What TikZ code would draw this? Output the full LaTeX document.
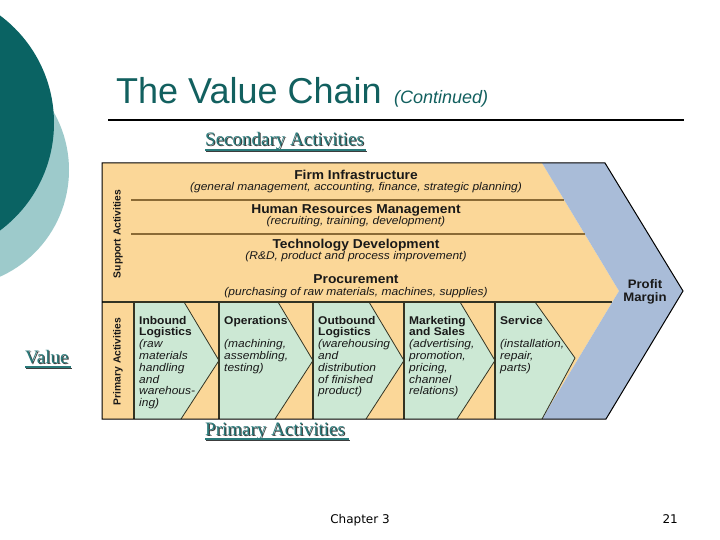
\documentclass[tikz,border=0pt]{standalone}
\usepackage{fontspec}
\setmainfont{Liberation Sans}
\newfontfamily\dfont[FakeStretch=1.07]{Liberation Sans}
\newfontfamily\vfont{Liberation Sans}
\newfontfamily\srffont{Liberation Serif}
\newfontfamily\footfont{DejaVu Sans}
\definecolor{orangec}{HTML}{FBD798}
\definecolor{greenc}{HTML}{CCE8D4}
\definecolor{bluec}{HTML}{A9BCD8}
\definecolor{dteal}{HTML}{0A6363}
\definecolor{lteal}{HTML}{9DCACB}
\definecolor{titlec}{HTML}{12605F}
\definecolor{tealtext}{HTML}{2A7A7A}
\definecolor{shadowc}{HTML}{3C3C3C}
\definecolor{sepc}{HTML}{8A6A35}
\definecolor{linec}{HTML}{333322}
\begin{document}
\begin{tikzpicture}[x=1pt,y=-1pt,
  coltext/.style={anchor=north west, align=left, inner sep=0pt, text=black!90,
    font=\dfont\fontsize{11.2}{11.8}\selectfont},
  rowtitle/.style={anchor=base, inner sep=0pt, text=black!90,
    font=\dfont\bfseries\fontsize{12.9}{14}\selectfont},
  rowsub/.style={anchor=base, inner sep=0pt, text=black!90,
    font=\dfont\itshape\fontsize{11.2}{12}\selectfont},
  vlabel/.style={rotate=90, inner sep=0pt, text=black!90,
    font=\vfont\bfseries\fontsize{10.3}{12}\selectfont},
  serifmain/.style={anchor=base west, inner sep=0pt, text=tealtext,
    font=\srffont\fontsize{19}{22}\selectfont},
  serifshadow/.style={anchor=base west, inner sep=0pt, text=shadowc,
    font=\srffont\fontsize{19}{22}\selectfont},
  chev/.style={fill=greenc},
  chevedge/.style={draw=linec, line width=0.8pt},
  colline/.style={draw=linec, line width=1.1pt},
  sepline/.style={draw=sepc, line width=1.4pt}
]
\useasboundingbox (0,0) rectangle (720,540);
\fill[white] (0,0) rectangle (720,540);
% left decoration
\fill[lteal] (-48,170) circle[radius=117pt];
\fill[dteal] (-80,123) circle[radius=134pt];
% title
\node (title) [anchor=base west, inner sep=0pt, text=titlec,
  font=\fontsize{36}{40}\selectfont] at (116,104) {The Value Chain};
\node (cont) [anchor=base west, inner sep=0pt, text=titlec,
  font=\itshape\fontsize{18}{20}\selectfont] at ([xshift=12pt]title.base east) {(Continued)};
\draw[line width=2pt, black] (108,120) -- (684,120);
% serif labels with shadow
\node (secs) [serifshadow] at (206,147) {Secondary Activities};
\node (sec) [serifmain] at (205,146) {Secondary Activities};
\draw[shadowc, line width=1.5pt] (206,151.5) -- (367,151.5);
\draw[tealtext, line width=1.5pt] (205,150) -- (366,150);
\node (vals) [serifshadow] at (26,364) {Value};
\node (val) [serifmain] at (25,363) {Value};
\draw[shadowc, line width=1.5pt] (26,368.5) -- (72,368.5);
\draw[tealtext, line width=1.5pt] (25,367) -- (71,367);
\node (prims) [serifshadow] at (206,436) {Primary Activities};
\node (prim) [serifmain] at (205,435) {Primary Activities};
\draw[shadowc, line width=1.5pt] (206,440.5) -- (350,440.5);
\draw[tealtext, line width=1.5pt] (205,439) -- (349,439);
% diagram backgrounds
\fill[orangec] (102,163) -- (542,163) -- (619,291) -- (542,419) -- (102,419) -- cycle;
\fill[bluec] (542,163) -- (605,163) -- (683,291) -- (606,419) -- (542,419) -- (619,291) -- cycle;
% green chevrons
\fill[chev] (134,302) -- (184,302) -- (219,360.5) -- (181,419) -- (134,419) -- cycle;
\fill[chev] (219,302) -- (278,302) -- (313,360.5) -- (275,419) -- (219,419) -- cycle;
\fill[chev] (313,302) -- (369,302) -- (404,360.5) -- (366,419) -- (313,419) -- cycle;
\fill[chev] (404,302) -- (460,302) -- (495,360.5) -- (457,419) -- (404,419) -- cycle;
\fill[chev] (495,302) -- (535,302) -- (575,358) -- (542,419) -- (495,419) -- cycle;
\draw[chevedge] (184,302) -- (219,360.5) -- (181,419);
\draw[chevedge] (278,302) -- (313,360.5) -- (275,419);
\draw[chevedge] (369,302) -- (404,360.5) -- (366,419);
\draw[chevedge] (460,302) -- (495,360.5) -- (457,419);
\draw[chevedge] (535,302) -- (575,358) -- (542,419);
% lines
\draw[sepline] (131,200) -- (564,200);
\draw[sepline] (131,234) -- (585,234);
\draw[colline] (102,302) -- (612.4,302);
\foreach \cx in {134,219,313,404,495} \draw[colline] (\cx,302) -- (\cx,419);
\draw[black, line width=1pt] (102,163) -- (605,163) -- (683,291) -- (606,419) -- (102,419) -- cycle;
% support labels
\node (sup) [vlabel] at (118,234) {Support Activities};
\node (pri) [vlabel] at (118,361.5) {Primary Activities};
% support rows
\node (r1) [rowtitle] at (356,179.5) {Firm Infrastructure};
\node (r1s) [rowsub] at (356,190.5) {(general management, accounting, finance, strategic planning)};
\node (r2) [rowtitle] at (356,213.5) {Human Resources Management};
\node (r2s) [rowsub] at (356,224.5) {(recruiting, training, development)};
\node (r3) [rowtitle] at (356,248.5) {Technology Development};
\node (r3s) [rowsub] at (356,259.5) {(R\&D, product and process improvement)};
\node (r4) [rowtitle] at (356,283.5) {Procurement};
\node (r4s) [rowsub] at (356,295) {(purchasing of raw materials, machines, supplies)};
% profit margin
\node (pm) [align=center, inner sep=0pt, text=black!90,
  font=\dfont\bfseries\fontsize{12.3}{12.5}\selectfont] at (645,292) {Profit\\Margin};
% primary columns
\node (c1) [coltext] at (139,315.8) {\textbf{Inbound}\\\textbf{Logistics}\\\textit{(raw}\\\textit{materials}\\\textit{handling}\\\textit{and}\\\textit{warehous-}\\\textit{ing)}};
\node (c2) [coltext] at (224,315.8) {\textbf{Operations}\\~\\\textit{(machining,}\\\textit{assembling,}\\\textit{testing)}};
\node (c3) [coltext] at (318,315.8) {\textbf{Outbound}\\\textbf{Logistics}\\\textit{(warehousing}\\\textit{and}\\\textit{distribution}\\\textit{of finished}\\\textit{product)}};
\node (c4) [coltext] at (409,315.8) {\textbf{Marketing}\\\textbf{and Sales}\\\textit{(advertising,}\\\textit{promotion,}\\\textit{pricing,}\\\textit{channel}\\\textit{relations)}};
\node (c5) [coltext] at (500,315.8) {\textbf{Service}\\~\\\textit{(installation,}\\\textit{repair,}\\\textit{parts)}};
% footer
\node (ch) [anchor=base, inner sep=0pt, font=\footfont\fontsize{12}{14}\selectfont] at (360,523) {Chapter 3};
\node (pg) [anchor=base east, inner sep=0pt, font=\footfont\fontsize{12}{14}\selectfont] at (678,523) {21};
\end{tikzpicture}
\end{document}
